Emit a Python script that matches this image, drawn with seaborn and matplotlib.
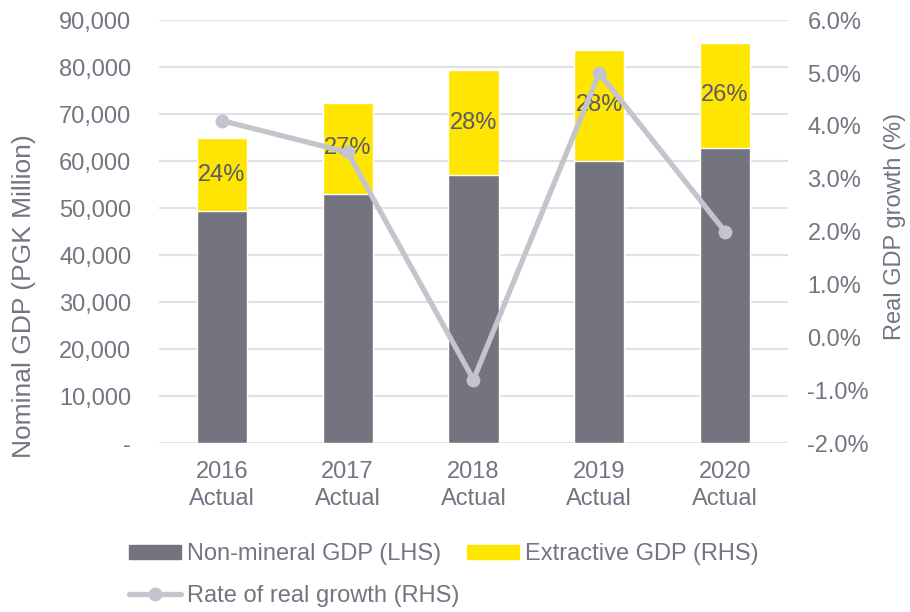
import numpy as np
import pandas as pd
import matplotlib.pyplot as plt
import seaborn as sns
from matplotlib.patches import Patch
from matplotlib.lines import Line2D
from matplotlib.ticker import FuncFormatter

years = ['2016\nActual', '2017\nActual', '2018\nActual', '2019\nActual', '2020\nActual']
non_mineral = [49400, 53000, 57000, 60000, 62800]
extractive = [15500, 19400, 22400, 23700, 22400]
share_labels = ['24%', '27%', '28%', '28%', '26%']
real_growth = [4.1, 3.5, -0.8, 5.0, 2.0]

GREY_BAR = '#747480'
YELLOW = '#FFE600'
LINE = '#C4C4CD'
TXT = '#747482'
GRID = '#e0e0e6'

df = pd.DataFrame({'year': years, 'non_mineral': non_mineral, 'extractive': extractive,
                   'growth': real_growth})
df['total'] = df['non_mineral'] + df['extractive']

sns.set_style('white')
plt.rcParams['font.family'] = ['Liberation Sans', 'DejaVu Sans']

fig = plt.figure(figsize=(9.1, 6.12), dpi=100)
ax = fig.add_axes([0.1747, 0.276, 0.6912, 0.691])

sns.barplot(data=df, x='year', y='total', color=YELLOW, saturation=1, width=0.4, ax=ax, zorder=2)
sns.barplot(data=df, x='year', y='non_mineral', color=GREY_BAR, saturation=1, width=0.4, ax=ax, zorder=3)

for i, lab in enumerate(share_labels):
    ax.text(i, df['non_mineral'][i] + df['extractive'][i] / 2, lab, ha='center', va='center',
            fontsize=17, color='#5a5a68', zorder=4)

ax.set_ylim(0, 90000)
ax.set_xlim(-0.5, 4.5)
ax.set_yticks(np.arange(0, 90001, 10000))
ax.yaxis.set_major_formatter(FuncFormatter(lambda v, p: '-' if v == 0 else f'{v:,.0f}'))
ax.grid(axis='y', color=GRID, linewidth=1.5, zorder=0)
ax.set_axisbelow(True)
for s in ax.spines.values():
    s.set_visible(False)
ax.tick_params(axis='y', length=0, pad=20, labelsize=17, labelcolor=TXT)
ax.tick_params(axis='x', length=0, pad=13, labelcolor=TXT)
for t in ax.get_xticklabels():
    t.set_fontsize(17)
    t.set_linespacing(1.3)
ax.set_xlabel('')
ax.set_ylabel('Nominal GDP (PGK Million)', fontsize=19, color=TXT)
ax.yaxis.set_label_coords(-0.196, 0.348)

ax2 = ax.twinx()
sns.lineplot(data=df, x='year', y='growth', sort=False, color=LINE, linewidth=3.8, marker='o',
             markersize=10, markeredgewidth=0, ax=ax2)
ax2.set_ylim(-2, 6)
ax2.set_yticks(np.arange(-2, 6.01, 1))
ax2.yaxis.set_major_formatter(FuncFormatter(lambda v, p: f'{v:.1f}%'))
for s in ax2.spines.values():
    s.set_visible(False)
ax2.tick_params(axis='y', length=0, pad=14, labelsize=17, labelcolor=TXT)
ax2.set_ylabel('Real GDP growth (%)', fontsize=17, color=TXT)
ax2.yaxis.set_label_coords(1.153, 0.513)
ax2.set_xlabel('')

handles = [Patch(color=GREY_BAR), Line2D([], [], color=LINE, lw=3.8, marker='o', markersize=10, markeredgewidth=0),
           Patch(color=YELLOW)]
labels = ['Non-mineral GDP (LHS)', 'Rate of real growth (RHS)', 'Extractive GDP (RHS)']
fig.legend(handles, labels, loc='upper left', bbox_to_anchor=(0.1418, 0.1127), ncol=2, frameon=False,
           borderpad=0, borderaxespad=0, handlelength=2.2, handleheight=0.55, handletextpad=0.25,
           columnspacing=0.34, labelspacing=0.85, labelcolor=TXT, fontsize=17)

fig.savefig('out.png', dpi=100)
